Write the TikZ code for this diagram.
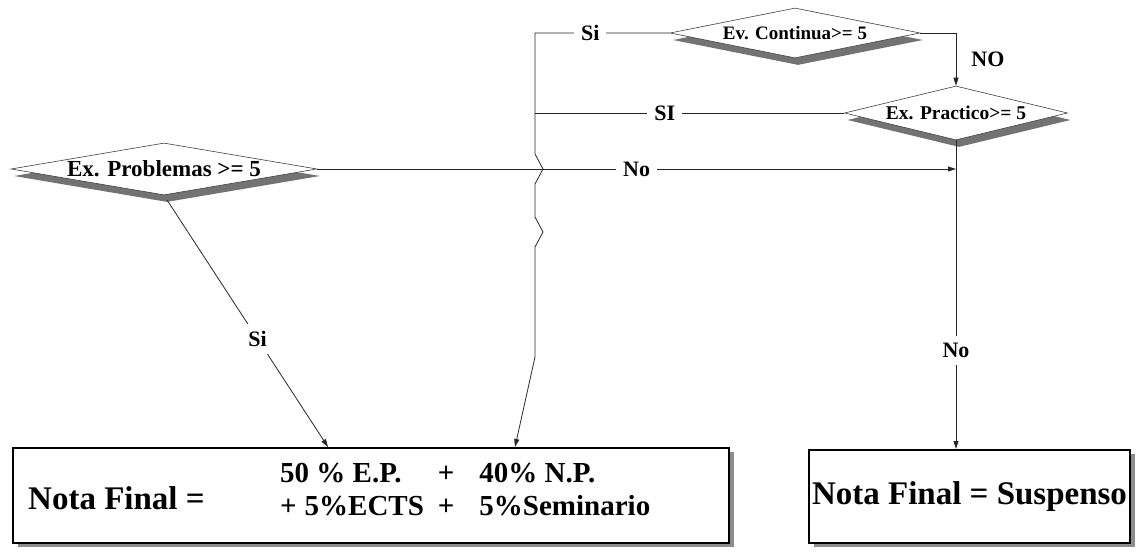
\documentclass[tikz,border=0pt]{standalone}
\usepackage{fontspec}
\setmainfont{Liberation Serif}
\usetikzlibrary{shapes.geometric,shadows,arrows.meta}

\tikzset{
  decision/.style={diamond, draw=black!75, line width=0.6pt, fill=white, inner sep=0pt,
    drop shadow={shadow xshift=3pt, shadow yshift=-7pt, fill=black!55, opacity=1}},
  result/.style={rectangle, draw, line width=2pt, fill=white,
    drop shadow={shadow xshift=5pt, shadow yshift=-4pt, fill=black!45, opacity=1}},
  link/.style={draw=black!85, line width=0.8pt},
  flow/.style={link, -{Triangle[length=8pt,width=5pt]}},
  lbl/.style={fill=white, inner sep=7pt, font=\fontsize{22}{24}\selectfont\bfseries},
  big/.style={inner sep=0pt, font=\fontsize{33}{36}\selectfont\bfseries}
}

\begin{document}
\begin{tikzpicture}[x=1pt,y=-1pt]
  \useasboundingbox (0,0) rectangle (1138,553);

  % decisions
  \node[decision, minimum width=250pt, minimum height=50pt, aspect=5,
    font=\fontsize{19}{20}\selectfont\bfseries] (cont) at (795,33) {Ev. Continua>= 5};
  \node[decision, minimum width=223pt, minimum height=54pt, aspect=4,
    font=\fontsize{19.5}{20}\selectfont\bfseries] (prac) at (956,113) {Ex. Practico>= 5};
  \node[decision, minimum width=306pt, minimum height=52pt, aspect=6,
    font=\fontsize{23}{24}\selectfont\bfseries] (prob) at (164,169) {Ex. Problemas >= 5};

  % results
  \node[result, minimum width=716pt, minimum height=95pt] (final) at (371,495.5) {};
  \node[big, anchor=west] (nfinal) at ([xshift=16pt,yshift=-3pt]final.west) {Nota Final =};
  \node[inner sep=0pt, anchor=west, font=\fontsize{29}{33}\selectfont\bfseries] (formula) at (280,492)
    {\begin{tabular}{@{}l@{\hspace{14pt}}c@{\hspace{25pt}}l@{}}
      50 \% E.P. & + & 40\% N.P.\\
      +\hspace{8pt}5\%ECTS & + & 5\%Seminario
    \end{tabular}};
  \node[result, minimum width=321pt, minimum height=93pt, inner xsep=2pt,
    font=\fontsize{33}{36}\selectfont\bfseries] (susp) at (969.5,496.5) {Nota Final = Suspenso};

  % connectors
  \coordinate (jtop) at (535,33);
  \coordinate (jsi) at (535,113);
  \draw[flow] (cont.west) -- node[lbl, pos=0.59] {Si} (jtop)
    -- (535,154) -- (543,169) -- (535,184)
    -- (535,217) -- (543,232) -- (535,247)
    -- (535,357) -- (515,0 |- final.north);
  \draw[link] (prac.west) -- node[lbl, pos=0.58] {SI} (jsi);
  \draw[flow] (cont.east) -| node[lbl, pos=0.75, anchor=west, xshift=8pt] {NO} (prac.north);
  \draw[flow] (prob.east) -- node[lbl] {No} (prob.east -| prac.south);
  \draw[flow] (prac.south) -- node[lbl, pos=0.68] {No} (prac.south |- susp.north);
  \draw[flow, shorten <=6pt] (prob.south) -- node[lbl, pos=0.57] {Si} (328,0 |- final.north);
\end{tikzpicture}
\end{document}
